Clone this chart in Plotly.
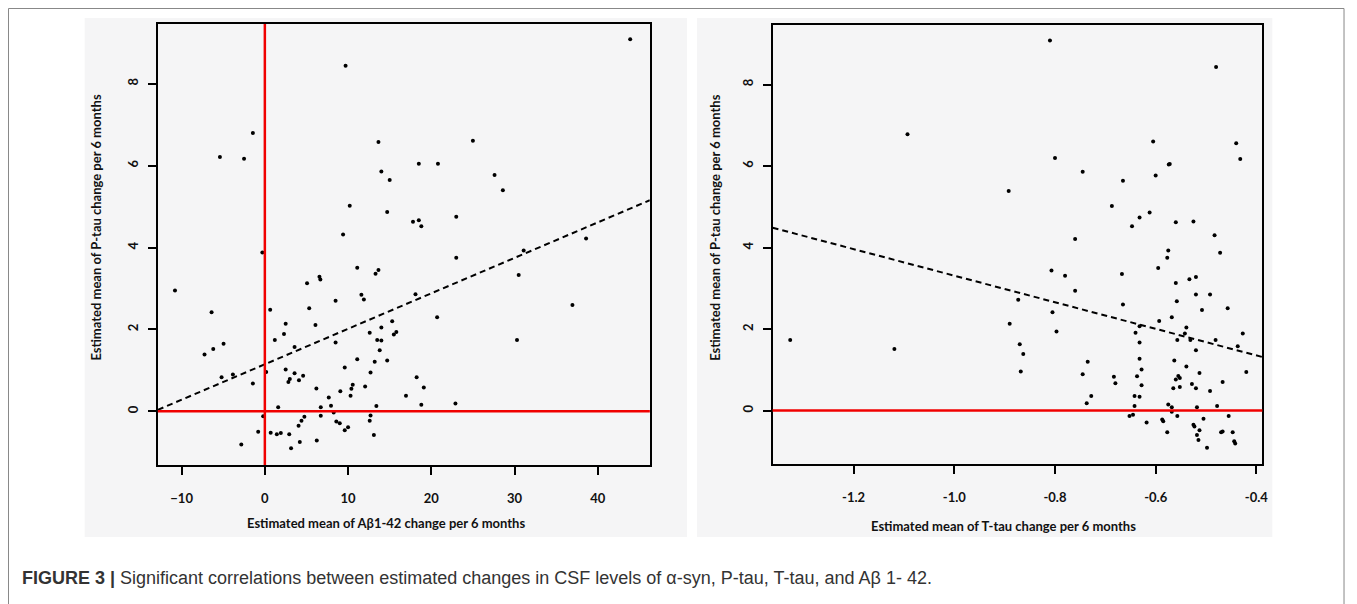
import plotly.graph_objects as go

# ---------------- Data ----------------
# Left panel: Abeta1-42 change (x) vs P-tau change (y)
ab_x = [43.9, 9.7, -1.44, -5.4, -2.5, 13.65, 25.0, 18.5, 20.8, 14.0, 15.0, 27.6, 28.6, 10.2, 14.7,
        17.8, 18.5, 18.8, 23.0, 9.4, -0.3, 38.6, 31.1, 23.0, 30.5, 11.1, 13.65, 13.3, -10.8, 6.56,
        6.67, 5.07, 11.6, 11.9, 8.5, 18.1, 36.96, -6.4, 0.64, 5.33, 20.7, 2.5, 6.08, 15.3, 14.0,
        2.3, 12.6, 15.8, 15.5, -6.2, -7.25, -4.96, 1.2, 3.57, 8.5, 13.5, 14.0, 13.8, 30.3, 11.1,
        14.7, 13.2, 9.6, 0.16, 2.5, 3.57, 12.7, -5.2, -3.84, 2.83, 3.0, 4.1, 4.6, 18.24, -1.44,
        6.19, 9.07, 10.56, 10.4, 12.05, 19.1, 10.3, 16.96, 7.68, 1.6, 6.72, 7.95, 13.4, 18.8, 22.9,
        -0.2, 6.72, 8.27, 12.7, 12.6, 8.59, 9.0, 10.0, 9.6, -0.8, 0.7, 1.44, 1.92, 2.93, 4.05,
        4.4, 4.75, 13.1, 6.24, 4.2, 3.15, -2.83]
ab_y = [9.09, 8.44, 6.80, 6.21, 6.17, 6.58, 6.61, 6.05, 6.05, 5.86, 5.65, 5.77, 5.40, 5.02, 4.87,
        4.63, 4.67, 4.52, 4.75, 4.32, 3.88, 4.22, 3.93, 3.75, 3.33, 3.51, 3.45, 3.36, 2.95, 3.29,
        3.22, 3.13, 2.85, 2.73, 2.70, 2.86, 2.60, 2.42, 2.48, 2.52, 2.30, 2.14, 2.11, 2.20, 2.05,
        1.89, 1.92, 1.94, 1.88, 1.52, 1.39, 1.65, 1.74, 1.57, 1.68, 1.74, 1.73, 1.49, 1.74, 1.27,
        1.24, 1.21, 1.07, 0.96, 1.02, 0.93, 0.95, 0.83, 0.90, 0.72, 0.79, 0.76, 0.87, 0.83, 0.68,
        0.56, 0.49, 0.65, 0.55, 0.61, 0.58, 0.38, 0.38, 0.34, 0.10, 0.10, 0.14, 0.13, 0.16, 0.19,
        -0.12, -0.11, -0.03, -0.10, -0.23, -0.25, -0.29, -0.39, -0.46, -0.50, -0.52, -0.56, -0.53, -0.56, -0.35,
        -0.23, -0.13, -0.58, -0.71, -0.75, -0.90, -0.81]

# Right panel: T-tau change (x) vs P-tau change (y)
tt_x = [-1.093, -0.892, -1.326, -1.119, -0.890, -0.873, -0.870, -0.863, -0.868,
        -0.810, -0.480, -0.605, -0.440, -0.800, -0.432, -0.574, -0.572, -0.745, -0.600, -0.665,
        -0.687, -0.632, -0.612, -0.647, -0.560, -0.525, -0.483, -0.760,
        -0.575, -0.577, -0.472, -0.807, -0.780, -0.667, -0.595, -0.760, -0.560, -0.533, -0.520,
        -0.558, -0.520, -0.492, -0.665, -0.508, -0.457, -0.805, -0.797, -0.593, -0.568, -0.640,
        -0.632, -0.539, -0.542, -0.557, -0.531, -0.632, -0.481, -0.520, -0.427, -0.437, -0.632,
        -0.563, -0.735, -0.628, -0.539, -0.745, -0.420, -0.513, -0.683, -0.680, -0.637, -0.628,
        -0.555, -0.552, -0.560, -0.565, -0.552, -0.528, -0.520, -0.467, -0.492, -0.728, -0.737,
        -0.642, -0.632, -0.642, -0.575, -0.568, -0.518, -0.478, -0.652, -0.645, -0.568, -0.557,
        -0.455, -0.618, -0.587, -0.585, -0.505, -0.525, -0.523, -0.577, -0.513, -0.518, -0.470,
        -0.467, -0.447, -0.515, -0.444, -0.442, -0.498]
tt_y = [6.78, 5.39, 1.73, 1.51, 2.13, 2.72, 1.63, 1.39, 0.96,
        9.08, 8.43, 6.60, 6.56, 6.20, 6.17, 6.04, 6.05, 5.86, 5.77, 5.64,
        5.02, 4.74, 4.86, 4.52, 4.62, 4.64, 4.30, 4.21,
        3.93, 3.75, 3.87, 3.44, 3.31, 3.35, 3.50, 2.94, 3.13, 3.22, 3.28,
        2.68, 2.85, 2.85, 2.60, 2.47, 2.51, 2.41, 1.94, 2.20, 2.29, 1.91,
        2.07, 2.04, 1.89, 1.73, 1.73, 1.67, 1.73, 1.48, 1.89, 1.58, 1.27,
        1.23, 1.20, 1.01, 1.08, 0.89, 0.95, 0.92, 0.83, 0.67, 0.84, 0.62,
        0.85, 0.80, 0.76, 0.55, 0.58, 0.65, 0.55, 0.70, 0.48, 0.36, 0.18,
        0.36, 0.34, 0.11, 0.15, 0.08, 0.08, 0.11, -0.13, -0.10, -0.03, -0.13,
        -0.13, -0.29, -0.22, -0.26, -0.20, -0.35, -0.39, -0.53, -0.48, -0.60, -0.53,
        -0.51, -0.53, -0.72, -0.75, -0.81, -0.91]

# Fitted regression lines (intercept, slope)
ab_fit = (1.15, 0.0866)
tt_fit = (0.05, -3.26)

ab_range_x = [-12.86, 46.26]
tt_range_x = [-1.361, -0.388]
y_range = [-1.31, 9.46]

ab_ticks = [-10, 0, 10, 20, 30, 40]
tt_ticks = [-1.2, -1.0, -0.8, -0.6, -0.4]
tt_ticklabels = ["-1.2", "-1.0", "-0.8", "-0.6", "-0.4"]
y_ticks = [0, 2, 4, 6, 8]

caption_bold = "FIGURE 3 |"
caption_text = " Significant correlations between estimated changes in CSF levels of \u03b1-syn, P-tau, T-tau, and A\u03b2 1- 42."

# The page body has an 8px margin; lay out in page pixels and convert.
OFF = 8
PAGE_W, PAGE_H = 1357, 604
W, H = PAGE_W - OFF, PAGE_H - OFF


def px(xp):
    return (xp - OFF) / W


def py(yp):
    return 1 - (yp - OFF) / H


fig = go.Figure()

mk = dict(color="black", size=4)
fig.add_trace(go.Scatter(x=ab_x, y=ab_y, mode="markers", marker=mk, xaxis="x", yaxis="y", showlegend=False))
fig.add_trace(go.Scatter(x=tt_x, y=tt_y, mode="markers", marker=mk, xaxis="x2", yaxis="y2", showlegend=False))

fx = ab_range_x
fig.add_trace(go.Scatter(x=fx, y=[ab_fit[0] + ab_fit[1] * v for v in fx], mode="lines",
                         line=dict(color="black", width=2, dash="6px,4px"), xaxis="x", yaxis="y", showlegend=False))
fx2 = tt_range_x
fig.add_trace(go.Scatter(x=fx2, y=[tt_fit[0] + tt_fit[1] * v for v in fx2], mode="lines",
                         line=dict(color="black", width=2, dash="6px,4px"), xaxis="x2", yaxis="y2", showlegend=False))

tickfont = dict(family="Lato", size=13, color="#111", weight="bold")
axcommon = dict(showgrid=False, zeroline=False, showline=True, mirror=True, linecolor="black", linewidth=2,
                ticks="outside", ticklen=8, tickwidth=2, tickcolor="black", tickfont=tickfont)

fig.update_layout(
    width=W, height=H, margin=dict(l=0, r=0, t=0, b=0),
    paper_bgcolor="white", plot_bgcolor="#fcfcfd",
    xaxis=dict(domain=[px(158.5), px(652.7)], range=ab_range_x, tickvals=ab_ticks, anchor="y",
               ticklabelstandoff=12, **axcommon),
    yaxis=dict(domain=[py(465), py(24)], range=y_range, tickvals=y_ticks, anchor="x",
               tickangle=-90, ticklabelstandoff=5, **axcommon),
    xaxis2=dict(domain=[px(776), px(1268)], range=tt_range_x, tickvals=tt_ticks, ticktext=tt_ticklabels,
                anchor="y2", ticklabelstandoff=12, **axcommon),
    yaxis2=dict(domain=[py(464), py(25)], range=y_range, tickvals=y_ticks, anchor="x2",
                tickangle=-90, ticklabelstandoff=4, **axcommon),
)

red = "#f00000"
shapes = [
    # outer frame
    dict(type="rect", xref="paper", yref="paper", x0=0.5 / W, x1=px(1350), y0=-0.05, y1=1 - 0.5 / H,
         line=dict(color="#888", width=1), fillcolor="rgba(0,0,0,0)", layer="below"),
    # panel backgrounds
    dict(type="rect", xref="paper", yref="paper", x0=px(85), x1=px(690), y0=py(537), y1=py(18),
         line=dict(width=0), fillcolor="#f5f5f6", layer="below"),
    dict(type="rect", xref="paper", yref="paper", x0=px(700), x1=px(1278), y0=py(537), y1=py(18),
         line=dict(width=0), fillcolor="#f5f5f6", layer="below"),
    # red reference lines
    dict(type="line", xref="x domain", yref="y", x0=0, x1=1, y0=0, y1=0, line=dict(color=red, width=2.5)),
    dict(type="line", xref="x", yref="y domain", x0=0, x1=0, y0=0, y1=1, line=dict(color=red, width=2.5)),
    dict(type="line", xref="x2 domain", yref="y2", x0=0, x1=1, y0=0, y1=0, line=dict(color=red, width=2.5)),
]
fig.update_layout(shapes=shapes)

tf = dict(family="Lato", size=13, color="#111", weight="bold")
ann = [
    dict(text="Estimated mean of P-tau change per 6 months", x=px(96), y=py(228), xref="paper", yref="paper",
         textangle=-90, showarrow=False, font=tf, xanchor="center", yanchor="middle"),
    dict(text="Estimated mean of A\u03b21-42 change per 6 months", x=px(388), y=py(523), xref="paper", yref="paper",
         showarrow=False, font=tf, xanchor="center", yanchor="middle"),
    dict(text="Estimated mean of P-tau change per 6 months", x=px(718), y=py(228), xref="paper", yref="paper",
         textangle=-90, showarrow=False, font=tf, xanchor="center", yanchor="middle"),
    dict(text="Estimated mean of T-tau change per 6 months", x=px(1008), y=py(526), xref="paper", yref="paper",
         showarrow=False, font=tf, xanchor="center", yanchor="middle"),
    dict(text="<b>" + caption_bold + "</b>" + caption_text, x=px(20), y=py(578), xref="paper", yref="paper",
         showarrow=False, font=dict(family="Liberation Sans", size=18, color="#333"),
         xanchor="left", yanchor="middle"),
]
fig.update_layout(annotations=ann)

fig.write_html("out.html")
